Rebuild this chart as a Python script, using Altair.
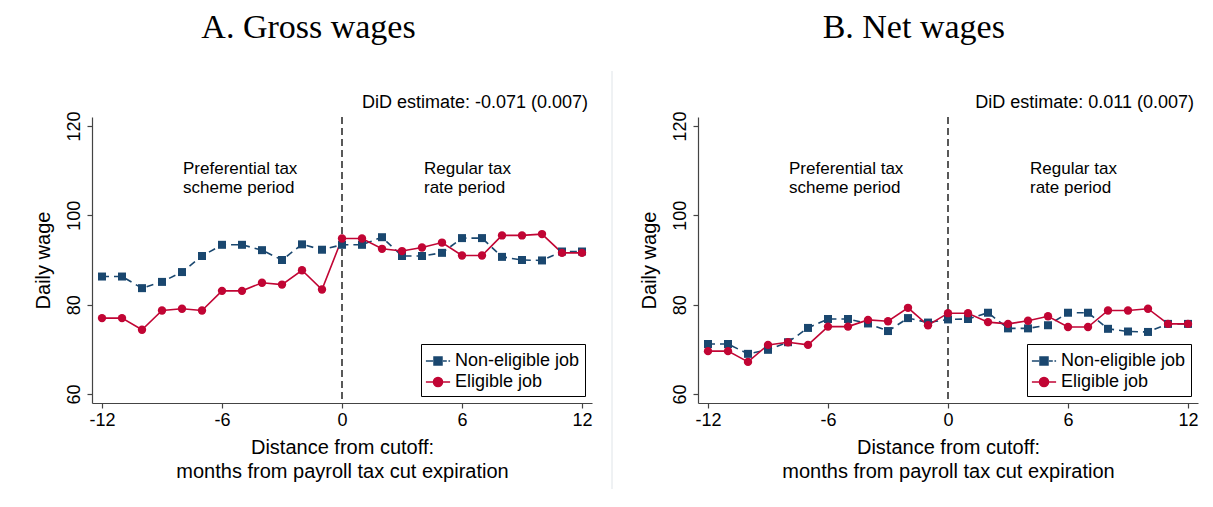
import altair as alt
import pandas as pd

# ---------------- data ----------------
months = list(range(-12, 13))
series_names = ["Non-eligible job", "Eligible job"]

gross_nonelig = [86.3, 86.3, 83.7, 85.1, 87.3, 90.9, 93.4, 93.4, 92.2, 90.0, 93.5, 92.3, 93.4,
                 93.4, 95.1, 90.9, 90.9, 91.6, 94.9, 94.9, 90.7, 90.0, 89.9, 91.9, 91.9]
gross_elig = [77.0, 77.0, 74.4, 78.7, 79.1, 78.7, 83.1, 83.1, 84.9, 84.5, 87.7, 83.4, 94.8,
              94.8, 92.5, 92.0, 92.8, 93.9, 91.0, 91.0, 95.5, 95.5, 95.8, 91.6, 91.6]
net_nonelig = [71.2, 71.2, 69.0, 69.9, 71.6, 74.8, 76.8, 76.8, 75.8, 74.1, 77.0, 76.0, 76.7,
               76.8, 78.2, 74.7, 74.7, 75.4, 78.2, 78.2, 74.6, 74.0, 73.9, 75.7, 75.7]
net_elig = [69.6, 69.6, 67.2, 71.0, 71.6, 71.0, 75.1, 75.1, 76.6, 76.3, 79.3, 75.4, 78.1,
            78.1, 76.1, 75.7, 76.4, 77.4, 75.0, 75.0, 78.7, 78.7, 79.1, 75.7, 75.7]

panel_titles = ["A. Gross wages", "B. Net wages"]
did_labels = ["DiD estimate: -0.071 (0.007)", "DiD estimate: 0.011 (0.007)"]
period_labels = [["Preferential tax", "scheme period"], ["Regular tax", "rate period"]]
x_ticks = [-12, -6, 0, 6, 12]
y_ticks = [60, 80, 100, 120]
x_title = ["Distance from cutoff:", "months from payroll tax cut expiration"]
y_title = "Daily wage"

# ---------------- style ----------------
BLUE = "#1a476f"
RED = "#c10534"
FONT = "Liberation Sans"
W, H = 500, 286
SQ_PATH = "M-1.1,0H-0.45M0.45,0H0.8M0.95,0H1.1M-0.36,-0.36H0.36V0.36H-0.36Z"
CI_PATH = "M-1.1,0H1.1M0.41,0A0.41,0.41,0,1,1,-0.41,0A0.41,0.41,0,1,1,0.41,0Z"


def panel(i, nonelig, elig, separator=False, title_dx=0):
    df = pd.DataFrame({
        "month": months + months,
        "wage": nonelig + elig,
        "series": [series_names[0]] * len(months) + [series_names[1]] * len(months),
    })
    one = pd.DataFrame({"k": [0]})
    base = alt.Chart(df)
    xs = alt.Scale(domain=[-12.5, 12.5], nice=False, zero=False)
    ys = alt.Scale(domain=[58, 122], nice=False, zero=False)
    x = alt.X("month:Q", scale=xs, axis=alt.Axis(
        values=x_ticks, title=x_title, labelExpr="datum.value + ''",
        labelPadding=3, titlePadding=8, titleLineHeight=24))
    y = alt.Y("wage:Q", scale=ys, axis=alt.Axis(
        values=y_ticks, title=y_title, labelAngle=-90, labelAlign="center",
        labelBaseline="bottom", labelPadding=4, titlePadding=12))

    cutoff = alt.Chart(one).mark_rule(color="black", strokeDash=[7, 4], strokeWidth=1.3).encode(
        x=alt.datum(0, scale=xs))

    line_non = base.transform_filter(alt.datum.series == series_names[0]).mark_line(
        color=BLUE, strokeWidth=1.6, strokeDash=[7, 5]).encode(x=x, y=y)
    line_el = base.transform_filter(alt.datum.series == series_names[1]).mark_line(
        color=RED, strokeWidth=1.6).encode(x=x, y=y)
    pts_non = base.transform_filter(alt.datum.series == series_names[0]).mark_point(
        shape="square", filled=True, size=64, color=BLUE, opacity=1).encode(x=x, y=y)
    pts_el = base.transform_filter(alt.datum.series == series_names[1]).mark_point(
        shape="circle", filled=True, size=70, color=RED, opacity=1).encode(x=x, y=y)

    pre_txt = alt.Chart(one).mark_text(
        text=period_labels[0], align="left", baseline="middle", fontSize=17,
        lineHeight=19, font=FONT, color="black").encode(
        x=alt.datum(-7.95), y=alt.datum(110.4))
    post_txt = alt.Chart(one).mark_text(
        text=period_labels[1], align="left", baseline="middle", fontSize=17,
        lineHeight=19, font=FONT, color="black").encode(
        x=alt.datum(4.1), y=alt.datum(110.4))
    did_txt = alt.Chart(one).mark_text(
        text=did_labels[i], align="right", baseline="middle", fontSize=18,
        font=FONT, color="black").encode(
        x=alt.datum(12.3), y=alt.datum(125.2))

    leg = base.mark_point(opacity=0, filled=True).encode(
        x=x, y=y,
        fill=alt.Fill("series:N", scale=alt.Scale(domain=series_names, range=[BLUE, RED]),
                      legend=alt.Legend(title=None)),
        stroke=alt.Stroke("series:N", scale=alt.Scale(domain=series_names, range=[BLUE, RED]),
                          legend=alt.Legend(title=None)),
        shape=alt.Shape("series:N", scale=alt.Scale(domain=series_names, range=[SQ_PATH, CI_PATH]),
                        legend=alt.Legend(title=None)),
    )

    # thin light divider between the two panels (invisible in the left panel, keeps tops aligned)
    sep = alt.Chart(one).mark_rule(
        color="#dfe4e8", strokeWidth=1, opacity=1 if separator else 0).encode(
        x=alt.value(-86 if separator else 0), y=alt.value(-46), y2=alt.value(H + 86 if separator else 0))

    layers = [sep, cutoff, line_non, line_el, pts_non, pts_el, pre_txt, post_txt, did_txt, leg]
    return alt.layer(*layers).properties(
        width=W, height=H,
        title=alt.TitleParams(panel_titles[i], offset=26, dx=title_dx),
    )


left = panel(0, gross_nonelig, gross_elig, title_dx=-4)
right = panel(1, net_nonelig, net_elig, separator=True, title_dx=9)

chart = alt.hconcat(left, right, spacing=18).resolve_scale(
    fill="independent", stroke="independent", shape="independent"
).resolve_legend(
    fill="independent", stroke="independent", shape="independent"
).properties(
    padding={"left": 25, "top": 2, "right": 5, "bottom": 0}
).configure(font=FONT).configure_view(stroke=None).configure_axis(
    grid=False, domainColor="#444444", tickColor="#444444", domainWidth=1.2, tickWidth=1.2,
    tickSize=5, labelColor="black", titleColor="black", labelFont=FONT, titleFont=FONT,
    labelFontSize=18, titleFontSize=20, titleFontWeight="normal",
).configure_legend(
    orient="bottom-right", offset=7, strokeColor="black", fillColor="white", padding=5,
    cornerRadius=0, symbolSize=484, symbolStrokeWidth=1.6, symbolOpacity=1,
    labelFont=FONT, labelFontSize=18, labelColor="black", labelOffset=5, rowPadding=0,
    symbolType="circle",
).configure_title(
    font="Liberation Serif", fontSize=34, fontWeight="normal", anchor="middle",
    frame="bounds", color="black",
)

chart.save("out.html", embed_options={"renderer": "svg", "actions": False})
